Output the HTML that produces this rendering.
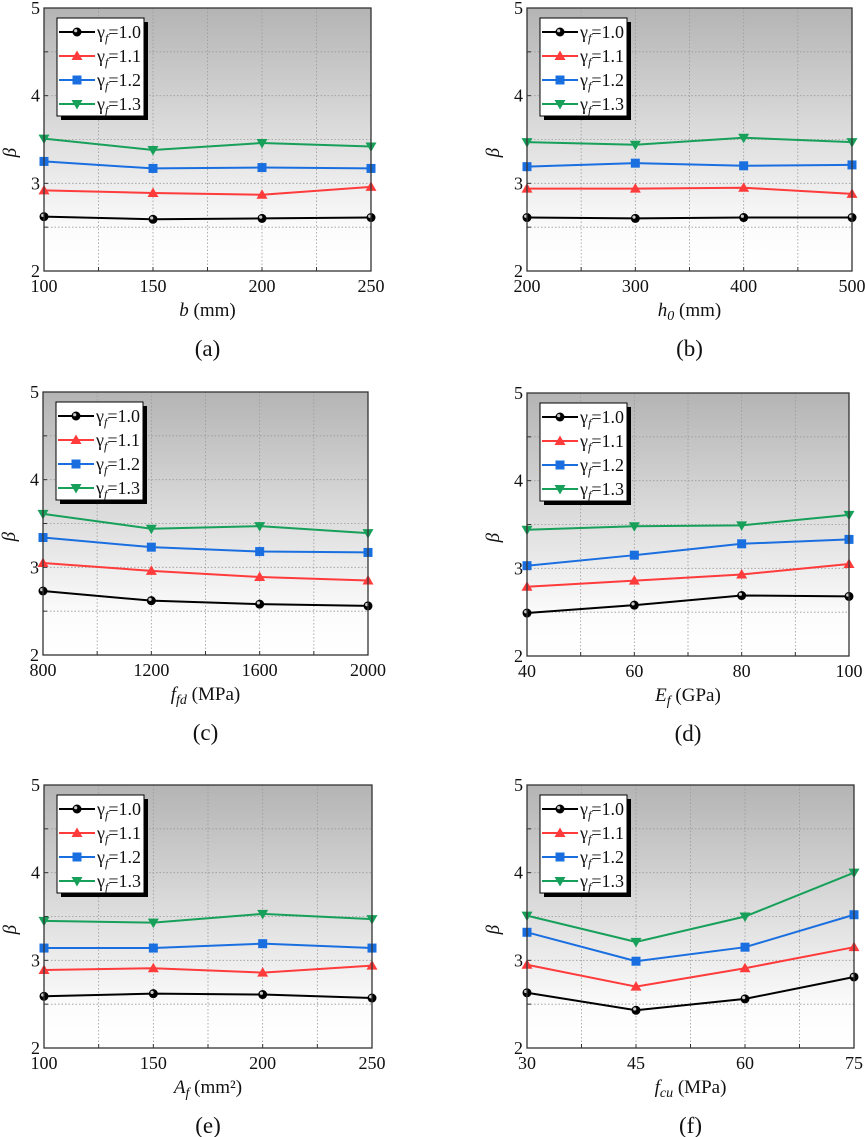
<!DOCTYPE html>
<html><head><meta charset="utf-8"><style>
html,body{margin:0;padding:0;background:#fff;width:865px;height:1137px;overflow:hidden}
svg{display:block;font-family:"Liberation Serif","DejaVu Serif",serif}
text{font-family:"Liberation Serif","DejaVu Serif",serif}
</style></head><body>
<svg id="fig" width="865" height="1137" viewBox="0 0 865 1137" xmlns="http://www.w3.org/2000/svg" font-family="Liberation Serif, serif">
<defs>
<linearGradient id="bg" x1="0" y1="0" x2="0" y2="1">
<stop offset="0" stop-color="#b4b4b4"/><stop offset="0.4" stop-color="#d6d6d6"/><stop offset="0.85" stop-color="#fcfcfc"/><stop offset="1" stop-color="#ffffff"/>
</linearGradient>
</defs>
</svg>
<script>
const seriesNames = ["1.0","1.1","1.2","1.3"];
const seriesColors = ["#000000","#ff3b3b","#1a6fe0","#17a05a"];
const yTicks = [2,3,4,5];
const xTicksA = [100,150,200,250];
const xTicksB = [200,300,400,500];
const xTicksC = [800,1200,1600,2000];
const xTicksD = [40,60,80,100];
const xTicksE = [100,150,200,250];
const xTicksF = [30,45,60,75];
const valsA = [[2.62,2.59,2.60,2.61],[2.92,2.89,2.87,2.96],[3.25,3.17,3.18,3.17],[3.51,3.38,3.46,3.42]];
const valsB = [[2.61,2.60,2.61,2.61],[2.94,2.94,2.95,2.88],[3.19,3.23,3.20,3.21],[3.47,3.44,3.52,3.47]];
const valsC = [[2.73,2.62,2.58,2.56],[3.05,2.96,2.89,2.85],[3.34,3.23,3.18,3.17],[3.61,3.44,3.47,3.39]];
const valsD = [[2.49,2.58,2.69,2.68],[2.79,2.86,2.93,3.05],[3.03,3.15,3.28,3.33],[3.44,3.48,3.49,3.61]];
const valsE = [[2.59,2.62,2.61,2.57],[2.89,2.91,2.86,2.94],[3.14,3.14,3.19,3.14],[3.45,3.43,3.53,3.47]];
const valsF = [[2.63,2.43,2.56,2.81],[2.95,2.70,2.91,3.15],[3.32,2.99,3.15,3.52],[3.51,3.21,3.50,4.00]];

const NS="http://www.w3.org/2000/svg";
const FONT='"Liberation Serif", "DejaVu Serif", serif';
const svg=document.getElementById('fig');
function mk(tag,attrs,parent){const e=document.createElementNS(NS,tag);for(const k in attrs)e.setAttribute(k,attrs[k]);if(tag==='text')e.style.fontFamily=FONT;(parent||svg).appendChild(e);return e;}

const panels=[
 {id:'a',x0:44,x1:371,y0:8,xt:xTicksA,v:valsA,xl:['b',''],unit:' (mm)'},
 {id:'b',x0:527,x1:852,y0:8,xt:xTicksB,v:valsB,xl:['h','0'],unit:' (mm)'},
 {id:'c',x0:43,x1:368,y0:392,xt:xTicksC,v:valsC,xl:['f','fd'],unit:' (MPa)'},
 {id:'d',x0:527,x1:849,y0:393,xt:xTicksD,v:valsD,xl:['E','f'],unit:'  (GPa)'},
 {id:'e',x0:44,x1:372,y0:785,xt:xTicksE,v:valsE,xl:['A','f'],unit:'  (mm²)'},
 {id:'f',x0:527,x1:854,y0:785,xt:xTicksF,v:valsF,xl:['f','cu'],unit:' (MPa)'}
];
const H=263;
panels.forEach(p=>{
 const g=mk('g',{});
 
 
 const y1=p.y0+H;
 const xmin=p.xt[0],xmax=p.xt[p.xt.length-1];
 const X=v=>p.x0+(v-xmin)/(xmax-xmin)*(p.x1-p.x0);
 const Y=v=>y1-(v-2)/3*H;
 const bg=mk('rect',{x:p.x0,y:p.y0,width:p.x1-p.x0,height:H,fill:'url(#bg)'},g);
 
 
 const step=(xmax-xmin)/6;
 for(let i=1;i<6;i++){const gx=X(xmin+i*step);mk('line',{x1:gx,x2:gx,y1:p.y0,y2:y1,stroke:'#9a9a9a','stroke-width':0.8,'stroke-dasharray':'1.5,2'},g);
  mk('line',{x1:gx,x2:gx,y1:y1,y2:y1-4,stroke:'#333','stroke-width':1},g);}
 for(let v=2.5;v<5;v+=0.5){const gy=Y(v);mk('line',{x1:p.x0,x2:p.x1,y1:gy,y2:gy,stroke:'#9a9a9a','stroke-width':0.8,'stroke-dasharray':'1.5,2'},g);
  mk('line',{x1:p.x0,x2:p.x0+4,y1:gy,y2:gy,stroke:'#333','stroke-width':1},g);}
 p.v.forEach((vals,si)=>{
  const sg=mk('g',{},g);
  
  
  const pts=vals.map((v,i)=>X(p.xt[i])+','+Y(v)).join(' ');
  mk('polyline',{points:pts,fill:'none',stroke:seriesColors[si],'stroke-width':2},sg);
  vals.forEach((v,i)=>drawMarker(sg,si,X(p.xt[i]),Y(v)));
 });
 mk('rect',{x:p.x0,y:p.y0,width:p.x1-p.x0,height:H,fill:'none',stroke:'#333','stroke-width':1.3},g);
 yTicks.forEach(t=>{const tl=mk('text',{x:p.x0-4,y:Y(t)+6,'text-anchor':'end','font-size':18,fill:'#111'},g);tl.textContent=t;
  });
 p.xt.forEach(t=>{const tl=mk('text',{x:X(t),y:y1+21,'text-anchor':'middle','font-size':18,fill:'#111'},g);tl.textContent=t;
  });
 const yt=mk('text',{x:0,y:0,'font-size':19,'font-style':'italic',transform:`translate(${p.x0-28},${p.y0+H*0.55}) rotate(-90)`,'text-anchor':'middle',fill:'#111'},g);
 yt.textContent='β';
 
 const xt=mk('text',{x:(p.x0+p.x1)/2,y:y1+45,'text-anchor':'middle','font-size':19,fill:'#111'},g);
 
 const t1=mk('tspan',{'font-style':'italic'},xt);t1.textContent=p.xl[0];
 if(p.xl[1]){const t2=mk('tspan',{'font-style':'italic','font-size':14,dy:4},xt);t2.textContent=p.xl[1];
  const t3=mk('tspan',{dy:-4},xt);t3.textContent=p.unit;}else{const t3=mk('tspan',{},xt);t3.textContent=p.unit;}
 const pl=mk('text',{x:(p.x0+p.x1)/2,y:y1+85,'text-anchor':'middle','font-size':23,fill:'#111'},g);
 pl.textContent='('+p.id+')';
 
 const lg=mk('g',{},g);
 
 
 const lx=p.x0+13,ly=p.y0+10;
 mk('rect',{x:lx+4,y:ly+4,width:87,height:98,fill:'#000'},lg);
 mk('rect',{x:lx,y:ly,width:87,height:98,fill:'#fff',stroke:'#000','stroke-width':1},lg);
 seriesNames.forEach((n,si)=>{
  const ey=ly+14+si*24;
  const le=mk('g',{},lg);
  
  
  mk('line',{x1:lx+2,x2:lx+38,y1:ey,y2:ey,stroke:seriesColors[si],'stroke-width':2},le);
  drawMarker(le,si,lx+20,ey);
  const tx=mk('text',{x:lx+40,y:ey+6,'font-size':18,fill:'#111'},le);
  const a=mk('tspan',{},tx);a.textContent='γ';
  const b=mk('tspan',{'font-style':'italic','font-size':12,dy:4},tx);b.textContent='f';
  const c=mk('tspan',{dy:-4},tx);c.textContent='=1.'+n.slice(2);
 });
});
function drawMarker(parent,si,x,y){
 const c=seriesColors[si];
 if(si===0){mk('circle',{cx:x,cy:y,r:4.5,fill:'#000'},parent);mk('circle',{cx:x-1.3,cy:y-1.3,r:1.6,fill:'#ccc'},parent);}
 else if(si===1){mk('polygon',{points:`${x},${y-5.5} ${x+5.5},${y+4} ${x-5.5},${y+4}`,fill:c},parent);}
 else if(si===2){mk('rect',{x:x-4.5,y:y-4.5,width:9,height:9,fill:c},parent);}
 else{mk('polygon',{points:`${x-5.5},${y-4} ${x+5.5},${y-4} ${x},${y+5.5}`,fill:c},parent);}
}
</script>
</body></html>
